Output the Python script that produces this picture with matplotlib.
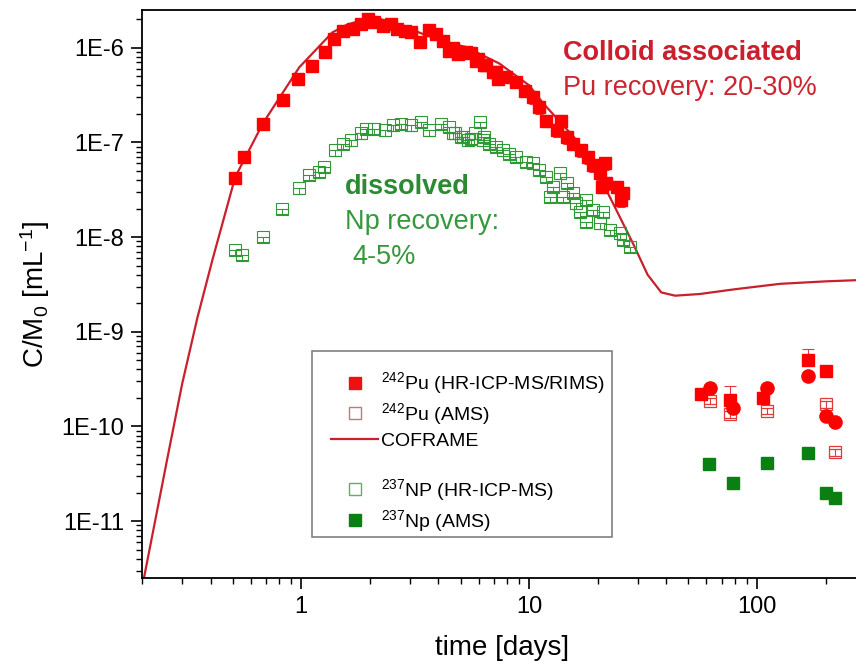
import numpy as np
import matplotlib
matplotlib.use('Agg')
import matplotlib.pyplot as plt
from matplotlib.lines import Line2D
from matplotlib.patches import Rectangle
from matplotlib.ticker import FixedLocator, LogLocator, FuncFormatter, NullFormatter

plt.rcParams['font.family'] = ['Liberation Sans', 'DejaVu Sans']
plt.rcParams['mathtext.default'] = 'regular'

# 242Pu (HR-ICP-MS/RIMS), colloid associated
pu_t = [0.51, 0.56, 0.68, 0.83, 0.97, 1.11, 1.27, 1.39, 1.52, 1.68, 1.83, 1.96,
        2.09, 2.28, 2.48, 2.63, 2.84, 3.04, 3.32, 3.65, 3.91, 4.18, 4.47, 4.62,
        4.87, 5.30, 5.57, 5.86, 5.96, 6.37, 6.48, 6.93, 7.17, 7.30, 7.94, 8.78,
        9.56, 10.4, 11.1, 11.9, 13.2, 13.8, 14.6, 15.6, 16.9, 18.1, 19.1, 20.4,
        20.8, 21.5, 21.8, 24.2, 25.4, 25.8]
pu_c = [4.25e-8, 7.0e-8, 1.57e-7, 2.81e-7, 4.68e-7, 6.41e-7, 9.08e-7, 1.24e-6,
        1.49e-6, 1.57e-6, 1.80e-6, 2.0e-6, 1.85e-6, 1.71e-6, 1.77e-6, 1.57e-6,
        1.49e-6, 1.45e-6, 1.16e-6, 1.53e-6, 1.39e-6, 1.19e-6, 9.3e-7, 1.0e-6,
        8.6e-7, 8.9e-7, 8.7e-7, 7.3e-7, 7.6e-7, 6.5e-7, 6.6e-7, 5.5e-7, 5.6e-7,
        4.7e-7, 4.87e-7, 4.3e-7, 3.5e-7, 3.0e-7, 2.35e-7, 1.7e-7, 1.34e-7, 1.7e-7,
        1.14e-7, 9.7e-8, 8.2e-8, 7.0e-8, 5.7e-8, 4.7e-8, 3.4e-8, 6.0e-8, 3.7e-8,
        3.4e-8, 2.45e-8, 2.9e-8]
pu_err = 0.15  # relative error shown on the points after 10 days

# 237Np (HR-ICP-MS), dissolved
np_t = [0.51, 0.55, 0.68, 0.82, 0.98, 1.08, 1.20, 1.26, 1.40, 1.52, 1.65, 1.83,
        1.92, 2.09, 2.32, 2.52, 2.74, 3.03, 3.36, 3.65, 4.11, 4.47, 4.62, 4.71,
        5.04, 5.12, 5.38, 5.57, 5.76, 6.06, 6.27, 6.37, 6.70, 7.17, 7.67, 8.2,
        8.78, 9.72, 10.4, 11.1, 11.9, 12.3, 12.7, 13.6, 14.1, 14.6, 15.6, 16.1,
        16.7, 17.8, 17.8, 19.1, 20.4, 21.1, 22.6, 25.0, 25.8, 27.7]
np_c = [7.3e-9, 6.5e-9, 1.0e-8, 2.0e-8, 3.26e-8, 4.5e-8, 4.9e-8, 5.5e-8, 8.2e-8,
        9.7e-8, 1.05e-7, 1.24e-7, 1.39e-7, 1.39e-7, 1.34e-7, 1.51e-7, 1.57e-7,
        1.51e-7, 1.64e-7, 1.34e-7, 1.57e-7, 1.45e-7, 1.24e-7, 1.24e-7, 1.14e-7,
        1.14e-7, 1.05e-7, 1.09e-7, 1.24e-7, 1.64e-7, 1.05e-7, 1.14e-7, 9.7e-8,
        8.9e-8, 8.2e-8, 7.6e-8, 7.0e-8, 6.2e-8, 6.0e-8, 5.1e-8, 4.3e-8, 2.65e-8,
        3.4e-8, 4.7e-8, 2.65e-8, 3.7e-8, 2.9e-8, 2.26e-8, 1.85e-8, 2.45e-8,
        1.45e-8, 1.92e-8, 1.39e-8, 1.85e-8, 1.19e-8, 1.09e-8, 9.3e-9, 7.9e-9]

# late-time samples
late_pu_t = [56.6, 76.1, 106.6, 167, 200]
late_pu_c = [2.17e-10, 1.92e-10, 2.0e-10, 5.0e-10, 3.82e-10]
late_pu_up = [0.3e-10, 0.75e-10, 0.3e-10, 1.5e-10, 0.3e-10]
late_circ_t = [62.1, 78.7, 111, 167, 200, 220]
late_circ_c = [2.55e-10, 1.57e-10, 2.55e-10, 3.38e-10, 1.28e-10, 1.11e-10]
pu_ams_t = [62.1, 76.1, 111, 200, 220]
pu_ams_c = [1.85e-10, 1.34e-10, 1.45e-10, 1.71e-10, 5.3e-11]
np_ams_t = [61.7, 78.2, 111, 167, 200, 220]
np_ams_c = [3.98e-11, 2.55e-11, 4.08e-11, 5.28e-11, 2.0e-11, 1.73e-11]

# COFRAME model curve
cof_t = [0.204, 0.258, 0.30, 0.35, 0.408, 0.513, 0.68, 0.98, 1.37, 1.58, 1.9,
         2.24, 2.82, 3.55, 4.47, 5.25, 7.4, 10.0, 11.5, 15.8, 19.7, 23.4, 28.6,
         33.1, 38.0, 43.7, 56.2, 79.4, 126, 200, 275]
cof_c = [2.5e-12, 4.5e-11, 2.8e-10, 1.4e-9, 5.8e-9, 4.3e-8, 1.6e-7, 6.2e-7,
         1.45e-6, 1.74e-6, 2.0e-6, 2.0e-6, 1.66e-6, 1.35e-6, 1.12e-6, 1.02e-6,
         6.8e-7, 4.0e-7, 2.6e-7, 1.12e-7, 5.1e-8, 2.24e-8, 8.5e-9, 4.0e-9,
         2.6e-9, 2.4e-9, 2.5e-9, 2.8e-9, 3.2e-9, 3.4e-9, 3.5e-9]

x_ticks = [1, 10, 100]
y_ticks = [1e-11, 1e-10, 1e-9, 1e-8, 1e-7, 1e-6]

red = '#ff0000'
red_ams = '#e03a3a'
line_red = '#c8202c'
green = '#0a7f12'
green_open = '#2f9a35'

W, H = 856, 669
fig = plt.figure(figsize=(W / 100, H / 100), dpi=100)
ax = fig.add_axes([142 / W, 1 - 578 / H, (856 - 142) / W, (578 - 10) / H])

ax.plot(cof_t, cof_c, color=line_red, lw=1.6, zorder=2)

pu_t_a = np.array(pu_t)
pu_c_a = np.array(pu_c)
err = np.where(pu_t_a > 10, pu_c_a * pu_err, 0)
ax.errorbar(pu_t, pu_c, yerr=err, fmt='s', ms=8.5, mfc=red, mec=red,
            ecolor=red_ams, elinewidth=0.8, capsize=3, capthick=0.8, zorder=4)

# open squares with the error bar drawn inside (lower half)
np_c_a = np.array(np_c)
ax.errorbar(np_t, np_c, yerr=[np_c_a * 0.12, np_c_a * 0.0], fmt='s', ms=8,
            mfc='none', mec=green_open, mew=0.8, ecolor=green_open,
            elinewidth=0.7, capsize=4, capthick=0.7, zorder=3)

ax.errorbar(late_pu_t, late_pu_c, yerr=[np.zeros(len(late_pu_c)), late_pu_up],
            fmt='s', ms=8.5, mfc=red, mec=red, ecolor=red_ams,
            elinewidth=0.8, capsize=4, capthick=0.8, zorder=4)
ax.plot(late_circ_t, late_circ_c, 'o', ms=9.5, mfc=red, mec=red, zorder=5)
pu_ams_a = np.array(pu_ams_c)
ax.errorbar(pu_ams_t, pu_ams_c, yerr=[pu_ams_a * 0.08, pu_ams_a * 0.09], fmt='s',
            ms=8.5, mfc='none', mec=red_ams, mew=0.9, ecolor=red_ams,
            elinewidth=0.8, capsize=4.2, capthick=0.8, zorder=3)
ax.plot(np_ams_t, np_ams_c, 's', ms=9, mfc=green, mec=green, zorder=4)

ax.set_xscale('log')
ax.set_yscale('log')
ax.set_xlim(0.2, 272)
ax.set_ylim(2.5e-12, 2.5e-6)

ax.xaxis.set_major_locator(FixedLocator(x_ticks))
ax.xaxis.set_minor_locator(LogLocator(base=10, subs=np.arange(2, 10), numticks=20))
ax.xaxis.set_major_formatter(FuncFormatter(lambda v, p: f'{v:g}'))
ax.xaxis.set_minor_formatter(NullFormatter())
ax.yaxis.set_major_locator(FixedLocator(y_ticks))
ax.yaxis.set_minor_locator(LogLocator(base=10, subs=np.arange(2, 10), numticks=30))
ax.yaxis.set_major_formatter(FuncFormatter(lambda v, p: f'1E{int(round(np.log10(v)))}'))
ax.yaxis.set_minor_formatter(NullFormatter())

ax.tick_params(which='major', direction='out', length=8, width=1.2,
               labelsize=17, pad=5, top=False, right=False)
ax.tick_params(which='minor', direction='out', length=4, width=1.0,
               top=False, right=False)
for s in ['left', 'bottom', 'top']:
    ax.spines[s].set_linewidth(1.3)
ax.spines['right'].set_visible(False)

fig.text(502 / W, 1 - 648 / H, 'time [days]', ha='center', va='center', fontsize=20)
fig.text(35 / W, 1 - 294 / H, r'C/M$_0$ [mL$^{-1}$]', ha='center', va='center',
         rotation=90, fontsize=20)

fig.text(563 / W, 1 - 53 / H, 'Colloid associated', ha='left', va='center',
         fontsize=19.5, fontweight='bold', color='#cc1f2d')
fig.text(563 / W, 1 - 88 / H, 'Pu recovery: 20-30%', ha='left', va='center',
         fontsize=19.5, color='#cc2530')
fig.text(345 / W, 1 - 187 / H, 'dissolved', ha='left', va='center',
         fontsize=19.5, fontweight='bold', color='#2b8a32')
fig.text(345 / W, 1 - 222 / H, 'Np recovery:', ha='left', va='center',
         fontsize=19.5, color='#35983c')
fig.text(352 / W, 1 - 257 / H, '4-5%', ha='left', va='center',
         fontsize=19.5, color='#35983c')

handles = [
    Line2D([], [], ls='none', marker='s', ms=9, mfc='#ee1111', mec='#ee1111'),
    Line2D([], [], ls='none', marker='s', ms=9, mfc='none', mec='#c07878', mew=1),
    Line2D([], [], color=line_red, lw=1.6),
    Line2D([], [], ls='none'),
    Line2D([], [], ls='none', marker='s', ms=9, mfc='none', mec='#60b060', mew=1),
    Line2D([], [], ls='none', marker='s', ms=9, mfc=green, mec=green),
]
labels = [r'$^{242}$Pu (HR-ICP-MS/RIMS)', r'$^{242}$Pu (AMS)', 'COFRAME', ' ',
          r'$^{237}$NP (HR-ICP-MS)', r'$^{237}$Np (AMS)']
fig.legend(handles, labels, loc='upper left',
           bbox_to_anchor=(312 / W, 1 - 351 / H), bbox_transform=fig.transFigure,
           fontsize=14, frameon=False, borderpad=1.0,
           labelspacing=0.25, handlelength=2.4, handletextpad=0.15,
           borderaxespad=0)
# legend frame (more padding on top than at the bottom, as in the original)
fig.patches.append(Rectangle((312 / W, 1 - 537 / H), (612 - 312) / W, (537 - 351) / H,
                             transform=fig.transFigure, fill=False,
                             edgecolor='#808080', linewidth=1.2, zorder=10))

fig.savefig('out.png', dpi=100)
